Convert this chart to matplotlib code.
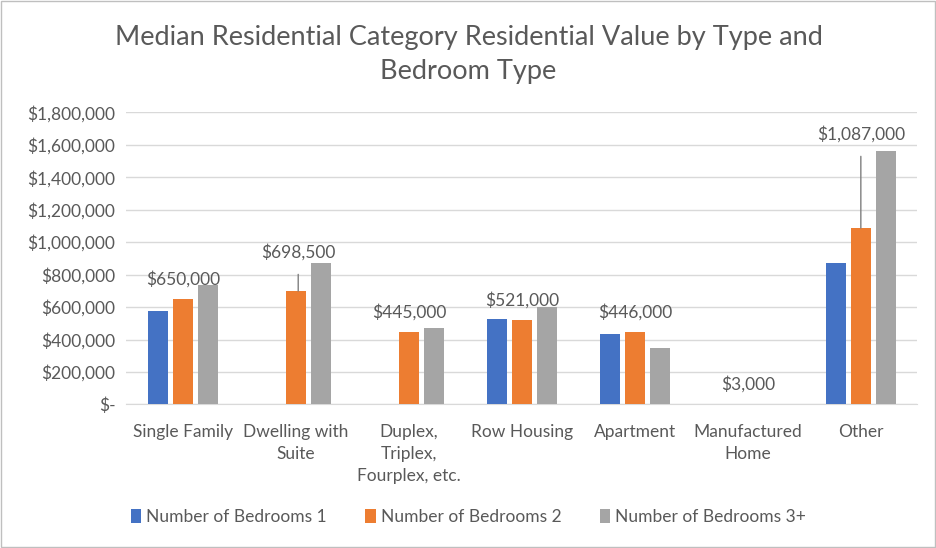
import numpy as np
import matplotlib.pyplot as plt
from matplotlib.ticker import FuncFormatter
from matplotlib.patches import Rectangle

plt.rcParams['font.family'] = ['Lato', 'DejaVu Sans']

categories = ["Single Family", "Dwelling with\nSuite", "Duplex,\nTriplex,\nFourplex, etc.",
              "Row Housing", "Apartment", "Manufactured\nHome", "Other"]
series_names = ["Number of Bedrooms 1", "Number of Bedrooms 2", "Number of Bedrooms 3+"]
bed1 = [573000, 0, 0, 524000, 432000, 0, 869000]
bed2 = [650000, 698500, 445000, 521000, 446000, 3000, 1087000]
bed3 = [735000, 870000, 468000, 598000, 345000, 0, 1560000]
colors = ["#4472C4", "#ED7D31", "#A5A5A5"]
text_col = "#595959"

fig = plt.figure(figsize=(9.37, 5.48), dpi=100)
ax = fig.add_axes([0.135, 0.262, 0.844, 0.533])

x = np.arange(len(categories))
w = 0.175
step = 0.222
for i, (vals, c, name) in enumerate(zip([bed1, bed2, bed3], colors, series_names)):
    ax.bar(x + (i - 1) * step, vals, width=w, color=c, label=name, zorder=3)

# data labels on the 2-bedroom series
for xi, v in zip(x, bed2):
    label = "${:,.0f}".format(v)
    if categories[xi].startswith("Dwelling"):
        ax.annotate(label, (xi + 0.02, v), xytext=(0, 39), textcoords='offset pixels',
                    ha='center', va='center', fontsize=12.5, color=text_col,
                    arrowprops=dict(arrowstyle='-', color='#7f7f7f', lw=1,
                                    shrinkA=8, shrinkB=0))
    elif categories[xi] == "Other":
        ax.annotate(label, (xi, v), xytext=(0, 94), textcoords='offset pixels',
                    ha='center', va='center', fontsize=12.5, color=text_col,
                    arrowprops=dict(arrowstyle='-', color='#7f7f7f', lw=1,
                                    shrinkA=8, shrinkB=0))
    else:
        ax.annotate(label, (xi, v), xytext=(0, 20), textcoords='offset pixels',
                    ha='center', va='center', fontsize=12.5, color=text_col)

ax.set_ylim(0, 1800000)
ax.set_xlim(-0.5, len(categories) - 0.5)
ax.set_yticks(np.arange(0, 1800001, 200000))
ax.yaxis.set_major_formatter(FuncFormatter(lambda v, p: "$-" if v == 0 else "${:,.0f}".format(v)))
ax.set_xticks(x)
ax.set_xticklabels(categories, fontsize=12.5, color=text_col, linespacing=1.45, va='top')
ax.tick_params(axis='y', labelsize=12.5, labelcolor=text_col, length=0, pad=8)
ax.tick_params(axis='x', length=0, pad=14)
ax.grid(axis='y', color='#D9D9D9', lw=1, zorder=0)
for s in ['top', 'right', 'left']:
    ax.spines[s].set_visible(False)
ax.spines['bottom'].set_color('#D9D9D9')

fig.text(0.5, 0.9, "Median Residential Category Residential Value by Type and\nBedroom Type",
         ha='center', va='center', fontsize=19.5, color=text_col, linespacing=1.45)

fig.legend(loc='center', bbox_to_anchor=(0.5, 1 - 517 / 548), ncol=3, frameon=False,
           fontsize=12.5, labelcolor=text_col, handlelength=0.6, handleheight=0.9,
           handletextpad=0.3, columnspacing=2.2)

fig.patches.append(Rectangle((0.001, 0.001), 0.997, 0.997, transform=fig.transFigure,
                             fill=False, edgecolor='#BFBFBF', lw=1))

fig.savefig("out.png", dpi=100)
